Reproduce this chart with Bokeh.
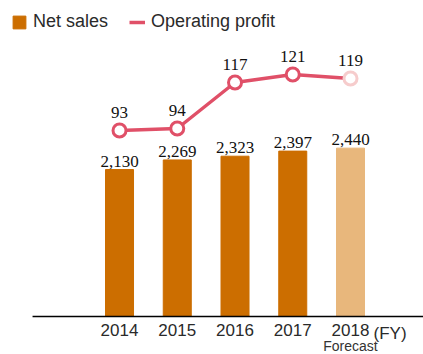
from bokeh.plotting import figure
from bokeh.models import Range1d, ColumnDataSource, Legend, LegendItem
from bokeh.core.properties import value
from bokeh.embed import file_html
from bokeh.resources import INLINE

# Annual results (FY), 100 million yen
years = ["2014", "2015", "2016", "2017", "2018"]
net_sales = [2130, 2269, 2323, 2397, 2440]
operating_profit = [93, 94, 117, 121, 119]
net_sales_labels = ["2,130", "2,269", "2,323", "2,397", "2,440"]
profit_labels = ["93", "94", "117", "121", "119"]
fy_suffix = "(FY)"
forecast_note = "Forecast"

BAR = "#CC6E00"
BAR_FC = "#E8B77C"
LINE = "#E05068"
LINE_FC = "#F6CCCC"
SANS = "Liberation Sans"
SERIF = "Liberation Serif"

xs = list(range(len(years)))

# frame fills the canvas; the baseline (value 0) sits 38px above the bottom edge
p = figure(width=423, height=354, output_backend="svg", toolbar_location=None,
           x_range=Range1d(-2.061, 5.264), y_range=Range1d(-551, 4580),
           min_border=0, outline_line_color=None)
p.extra_y_ranges = {"profit": Range1d(-19, 158)}
p.grid.visible = False
p.axis.visible = False

# net sales bars (last year is a forecast)
bar_colors = [BAR, BAR, BAR, BAR, BAR_FC]
src = ColumnDataSource(dict(x=xs, top=net_sales, color=bar_colors, lab=net_sales_labels))
bars = p.vbar(x="x", top="top", width=0.485, bottom=0, color="color", source=src)
p.text(x="x", y="top", text="lab", source=src, text_align="center",
       text_baseline="bottom", y_offset=-3, text_font=value(SERIF),
       text_font_size="17px", text_color="#111111")

# category baseline
p.segment(x0=[-1.506], y0=[0], x1=[5.264], y1=[0], line_color="black", line_width=1.5)

# year labels under the baseline
tsrc = ColumnDataSource(dict(x=xs, y=[0] * len(xs), lab=years))
p.text(x="x", y="y", text="lab", source=tsrc, text_align="center", text_baseline="top",
       y_offset=8, text_font=value(SANS), text_font_size="17px", text_color="#2a2a2a")
p.text(x=[xs[-1]], y=[0], text=[fy_suffix], x_offset=23, y_offset=8, text_align="left",
       text_baseline="top", text_font=value(SANS), text_font_size="17px",
       text_color="#2a2a2a")
p.text(x=[xs[-1]], y=[0], text=[forecast_note], y_offset=30, text_align="center",
       text_baseline="alphabetic", text_font=value(SANS), text_font_size="14px",
       text_color="#333333")

# operating profit line on the secondary scale
line = p.line(xs, operating_profit, line_color=LINE, line_width=3.5, y_range_name="profit")
mk_colors = [LINE, LINE, LINE, LINE, LINE_FC]
msrc = ColumnDataSource(dict(x=xs, y=operating_profit, c=mk_colors, lab=profit_labels))
p.scatter(x="x", y="y", size=13, fill_color="white", line_color="c", line_width=3,
          source=msrc, y_range_name="profit")
p.text(x="x", y="y", text="lab", source=msrc, y_range_name="profit",
       text_align="center", text_baseline="bottom", y_offset=-13,
       text_font=value(SERIF), text_font_size="17px", text_color="#111111")

legend = Legend(items=[LegendItem(label="Net sales", renderers=[bars], index=0),
                       LegendItem(label="Operating profit", renderers=[line])],
                location=(11, 322), orientation="horizontal",
                padding=0, margin=0, spacing=21, label_standoff=6,
                glyph_width=16, glyph_height=16, label_height=16,
                label_text_font=SANS, label_text_font_size="18px",
                label_text_color="#2a2a2a", border_line_color=None,
                background_fill_alpha=0)
p.add_layout(legend)

open("out.html", "w").write(file_html(p, INLINE))
